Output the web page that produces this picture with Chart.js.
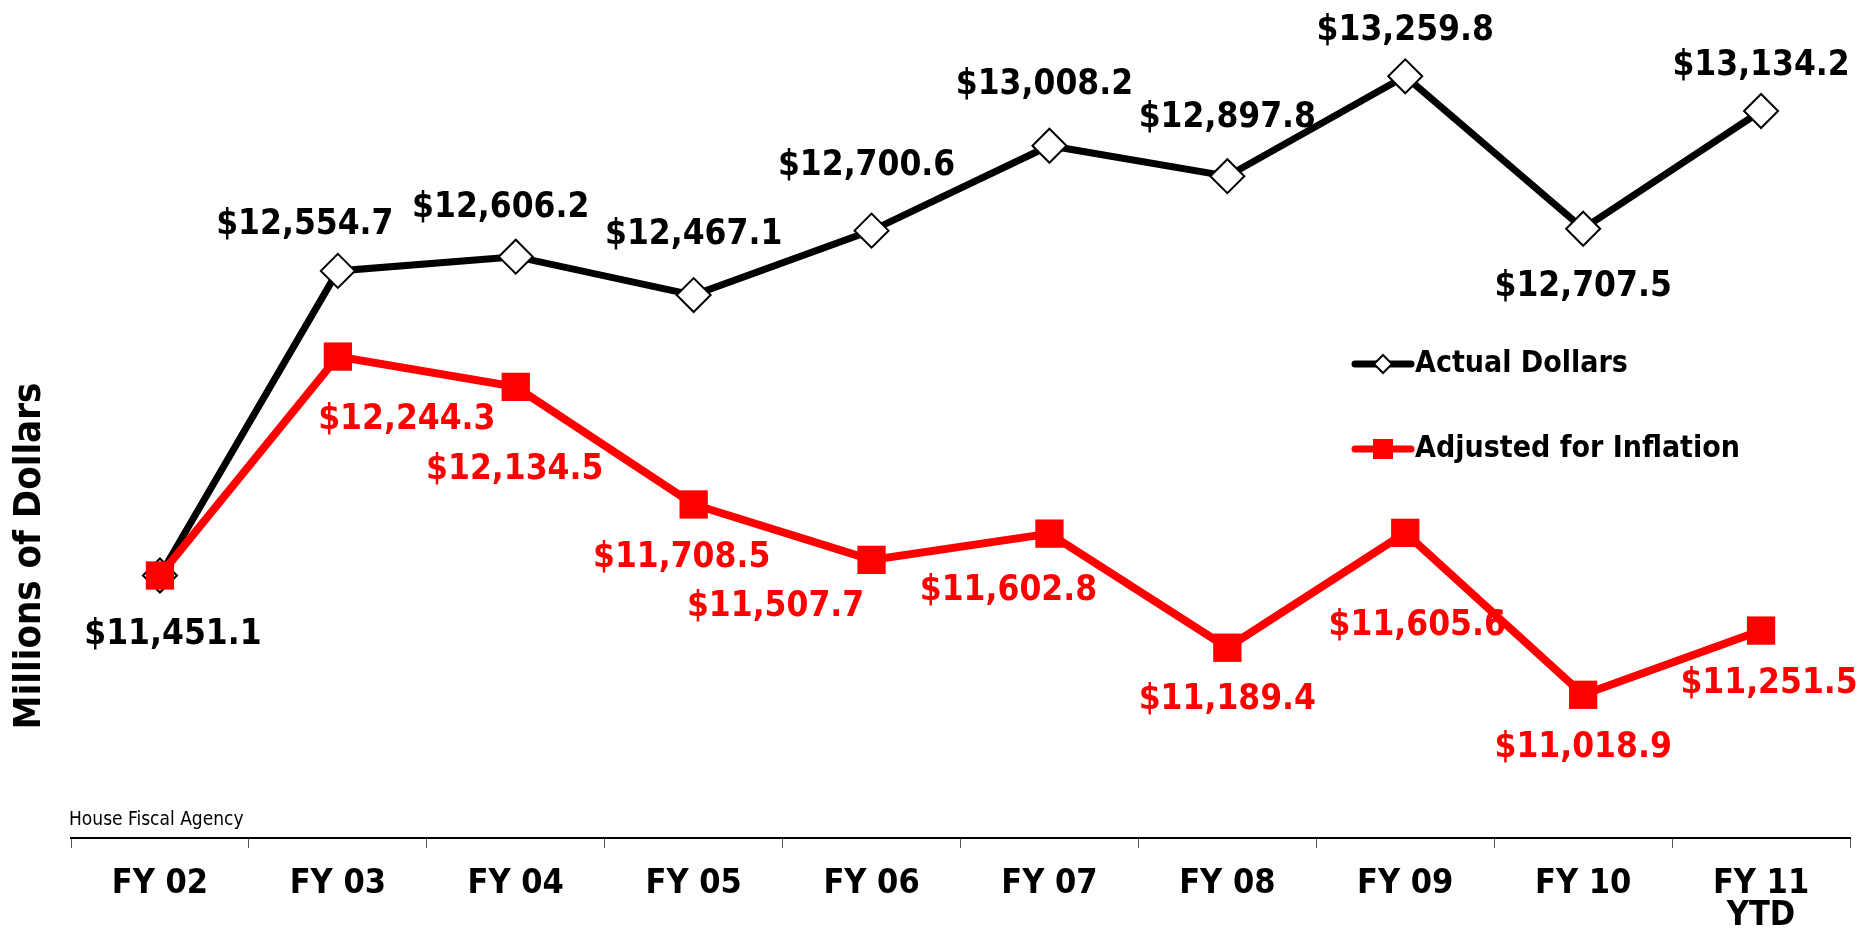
<!DOCTYPE html>
<html>
<head>
  <title>Millions of Dollars - Actual vs Adjusted</title>
  <script src="https://cdn.jsdelivr.net/npm/chart.js"></script>
  <style>
    body {
      margin: 0;
      background: #ffffff;
    }

    .chart-container {
      width: 1869px;
      height: 929px;
    }
  </style>
</head>
<body>
  <div class="chart-container">
    <canvas id="chart"></canvas>
  </div>

  <script>
    var years = ['FY 02', 'FY 03', 'FY 04', 'FY 05', 'FY 06', 'FY 07', 'FY 08', 'FY 09', 'FY 10', ['FY 11', 'YTD']];
    var actualDollars = [11451.1, 12554.7, 12606.2, 12467.1, 12700.6, 13008.2, 12897.8, 13259.8, 12707.5, 13134.2];
    var adjustedDollars = [11451.1, 12244.3, 12134.5, 11708.5, 11507.7, 11602.8, 11189.4, 11605.6, 11018.9, 11251.5];

    // label offsets from each point (px), null = no label
    var actualLabelPos = [[13, 59], [-33, -46], [-15, -49], [0, -60], [-5, -65], [-5, -61], [0, -58], [0, -45], [0, 58], [0, -45]];
    var adjustedLabelPos = [null, [69, 63], [-1, 83], [-12, 53], [-96, 47], [-41, 57], [0, 52], [12, 93], [0, 53], [8, 53]];

    var FONT = '"DejaVu Sans Condensed", "DejaVu Sans", sans-serif';

    function fmt(v) {
      return '$' + v.toLocaleString('en-US', { minimumFractionDigits: 1, maximumFractionDigits: 1 });
    }

    var extras = {
      id: 'extras',
      afterDatasetsDraw: function (chart) {
        var ctx = chart.ctx;
        ctx.save();
        ctx.textAlign = 'center';
        ctx.textBaseline = 'middle';
        ctx.font = 'bold 35px ' + FONT;

        var sets = [
          { idx: 0, values: actualDollars, pos: actualLabelPos, color: '#000000' },
          { idx: 1, values: adjustedDollars, pos: adjustedLabelPos, color: '#ff0000' }
        ];
        sets.forEach(function (s) {
          var meta = chart.getDatasetMeta(s.idx);
          ctx.fillStyle = s.color;
          meta.data.forEach(function (pt, i) {
            if (!s.pos[i]) return;
            ctx.fillText(fmt(s.values[i]), pt.x + s.pos[i][0], pt.y + s.pos[i][1]);
          });
        });

        // legend
        var lx = 1355, lw = 56, rows = [364, 449];
        ctx.lineCap = 'round';
        ctx.lineWidth = 7;
        ctx.strokeStyle = '#000000';
        ctx.beginPath();
        ctx.moveTo(lx, rows[0]);
        ctx.lineTo(lx + lw, rows[0]);
        ctx.stroke();
        ctx.beginPath();
        var cx = lx + lw / 2;
        ctx.moveTo(cx, rows[0] - 9);
        ctx.lineTo(cx + 9, rows[0]);
        ctx.lineTo(cx, rows[0] + 9);
        ctx.lineTo(cx - 9, rows[0]);
        ctx.closePath();
        ctx.fillStyle = '#ffffff';
        ctx.fill();
        ctx.lineWidth = 2;
        ctx.stroke();

        ctx.strokeStyle = '#ff0000';
        ctx.lineWidth = 7;
        ctx.beginPath();
        ctx.moveTo(lx, rows[1]);
        ctx.lineTo(lx + lw, rows[1]);
        ctx.stroke();
        ctx.fillStyle = '#ff0000';
        ctx.fillRect(cx - 10, rows[1] - 10, 20, 20);

        ctx.fillStyle = '#000000';
        ctx.textAlign = 'left';
        ctx.font = 'bold 30px ' + FONT;
        ctx.fillText('Actual Dollars', lx + lw + 4, rows[0]);
        ctx.fillText('Adjusted for Inflation', lx + lw + 4, rows[1]);

        // source note
        ctx.font = '19px ' + FONT;
        ctx.fillText('House Fiscal Agency', 69, 820);

        // y title
        ctx.translate(30, 556);
        ctx.rotate(-Math.PI / 2);
        ctx.textAlign = 'center';
        ctx.font = 'bold 38px ' + FONT;
        ctx.fillText('Millions of Dollars', 0, 0);
        ctx.restore();
      }
    };

    var ctx = document.getElementById('chart').getContext('2d');
    var chart = new Chart(ctx, {
      type: 'line',
      data: {
        labels: years,
        datasets: [{
          label: 'Actual Dollars',
          data: actualDollars,
          borderColor: '#000000',
          borderWidth: 7,
          fill: false,
          pointStyle: 'rectRot',
          pointRadius: 17,
          pointBorderWidth: 2,
          pointBackgroundColor: '#ffffff',
          pointBorderColor: '#000000',
          tension: 0,
          order: 1
        }, {
          label: 'Adjusted for Inflation',
          data: adjustedDollars,
          borderColor: '#ff0000',
          borderWidth: 8,
          fill: false,
          pointStyle: 'rect',
          pointRadius: 20,
          pointBorderWidth: 0,
          pointBackgroundColor: '#ff0000',
          pointBorderColor: '#ff0000',
          tension: 0,
          order: 0
        }]
      },
      options: {
        responsive: true,
        maintainAspectRatio: false,
        animation: false,
        layout: {
          autoPadding: false,
          padding: { left: 71, right: 19, top: 10, bottom: 0 }
        },
        plugins: {
          legend: { display: false },
          tooltip: { enabled: false }
        },
        scales: {
          x: {
            offset: true,
            afterFit: function (scale) { scale.height = 91; },
            grid: {
              offset: true,
              drawOnChartArea: false,
              tickLength: 10,
              tickColor: '#555555',
              lineWidth: 1
            },
            border: { display: true, color: '#000000', width: 2 },
            ticks: {
              color: '#000000',
              padding: 20,
              font: { family: FONT, size: 34, weight: 'bold', lineHeight: 0.95 }
            }
          },
          y: {
            display: false,
            min: 10500,
            max: 13500
          }
        }
      },
      plugins: [extras]
    });
  </script>
</body>
</html>
